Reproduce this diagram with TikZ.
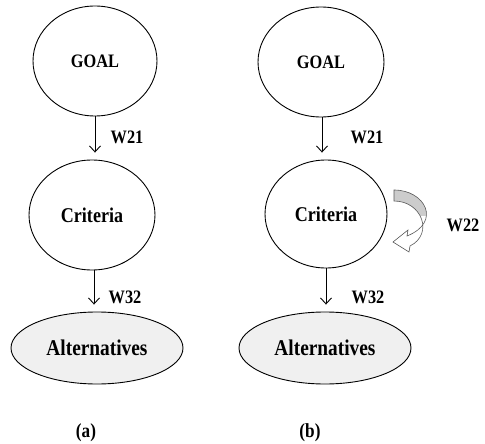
\documentclass[tikz,border=0pt]{standalone}
\usepackage{graphicx}
\usepackage{fontspec}
\setmainfont{Liberation Serif}
\usetikzlibrary{shapes.geometric,arrows.meta}
% narrow bold lettering used throughout
\newcommand\narrow[1]{\scalebox{0.86}[1]{#1}}
\begin{document}
\begin{tikzpicture}[x=1pt,y=-1pt,
  lvl/.style={ellipse,draw,line width=0.9pt,inner sep=0pt,font=\bfseries},
  goalfont/.style={font=\bfseries\fontsize{19}{22}\selectfont},
  critfont/.style={font=\bfseries\fontsize{21}{24}\selectfont},
  alt/.style={lvl,fill=gray!12,minimum width=172pt,minimum height=72pt,font=\bfseries\fontsize{22.5}{26}\selectfont},
  wlab/.style={font=\bfseries\fontsize{19}{22}\selectfont},
  arr/.style={line width=0.9pt,-{Straight Barb[length=6pt,width=11pt,line width=0.9pt]}},
  sublabel/.style={font=\bfseries\fontsize{20}{23}\selectfont}]
\useasboundingbox (0,0) rectangle (485,444);

% (a) plain hierarchy
\node[lvl,goalfont,minimum width=124pt,minimum height=110pt] (g1) at (95,61) {\narrow{GOAL}};
\node[lvl,critfont,minimum width=126pt,minimum height=110pt] (c1) at (92,215) {\narrow{Criteria}};
\node[alt] (a1) at (97,348) {\narrow{Alternatives}};
\draw[arr,shorten >=7pt] (g1.south) -- (g1.south |- c1.north);
\draw[arr,shorten >=7pt] (c1.south -| 94,0) -- (94,0 |- a1.north);
\node[wlab] (w21a) at (127,137) {\narrow{W21}};
\node[wlab] (w32a) at (125,297) {\narrow{W32}};
\node[sublabel] (capa) at (86,433) {\narrow{(a)}};

% (b) hierarchy with feedback among criteria
\node[lvl,goalfont,minimum width=126pt,minimum height=110pt] (g2) at (321,62) {\narrow{GOAL}};
\node[lvl,critfont,minimum width=122pt,minimum height=108pt] (c2) at (326,214) {\narrow{Criteria}};
\node[alt] (a2) at (325,348) {\narrow{Alternatives}};
\draw[arr,shorten >=7pt] (g2.south -| 322,0) -- (322,0 |- c2.north);
\draw[arr,shorten >=7pt] (c2.south) -- (c2.south |- a2.north);
\node[wlab] (w21b) at (367,137) {\narrow{W21}};
\node[wlab] (w32b) at (368,297) {\narrow{W32}};
\node[wlab] (w22) at (463,225) {\narrow{W22}};
\node[sublabel] (capb) at (310,433) {\narrow{(b)}};

% curved block arrow for the W22 loop
\draw[line width=0.6pt,draw=gray!70!black,fill=white,
  path picture={\fill[gray!40] (380,180) rectangle (450,216);}]
  (394,190) .. controls (425,190) and (442,222) .. (407,236)
  -- (408,230) -- (393,242) -- (409,252) -- (410,246)
  .. controls (434,234) and (422,201) .. (394,201) -- cycle;
\end{tikzpicture}
\end{document}
